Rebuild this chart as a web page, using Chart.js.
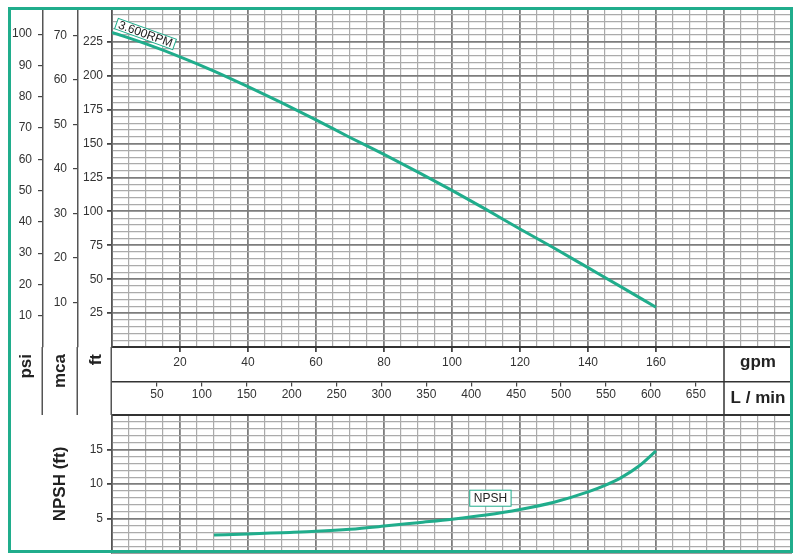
<!DOCTYPE html>
<html>
<head>
<meta charset="utf-8">
<title>Pump curve 3.600RPM</title>
<script src="https://cdn.jsdelivr.net/npm/chart.js@4.4.1/dist/chart.umd.min.js"></script>
<style>
    body { margin: 0; background: #fff; }
    #wrap { position: relative; width: 802px; height: 560px; }
    canvas { position: absolute; left: 0; }
    #main { top: 0; }
    #npsh { top: 410px; }
    #frame {
        position: absolute; left: 8px; top: 7px; width: 785px; height: 546px;
        border: 3px solid #20ad8c; box-sizing: border-box; pointer-events: none;
    }
</style>
</head>
<body>
<div id="wrap">
    <canvas id="main" width="802" height="416"></canvas>
    <canvas id="npsh" width="802" height="150"></canvas>
    <div id="frame"></div>
</div>
<script>
// head curve
const headFlowGpm = [0, 10, 20, 30, 40, 50, 60, 70, 80, 90, 100, 110, 120, 130, 140, 150, 160];
const headFt = [232, 223.5, 214, 203.5, 192, 180, 167.5, 154.5, 142, 129, 115.5, 101.5, 87, 73, 58.5, 44, 29.3];

// NPSH curve
const npshFlowGpm = [30, 40, 50, 60, 70, 80, 90, 100, 110, 120, 130, 140, 145, 150, 155, 160];
const npshFt = [2.6, 2.75, 2.95, 3.15, 3.45, 3.9, 4.4, 4.9, 5.5, 6.3, 7.35, 8.85, 9.8, 11.0, 12.6, 14.8];

// tick labels
const gpmTicks = [20, 40, 60, 80, 100, 120, 140, 160];
const lminTicks = [50, 100, 150, 200, 250, 300, 350, 400, 450, 500, 550, 600, 650];
const psiTicks = [10, 20, 30, 40, 50, 60, 70, 80, 90, 100];
const mcaTicks = [10, 20, 30, 40, 50, 60, 70];
const ftTicks = [25, 50, 75, 100, 125, 150, 175, 200, 225];
const npshTicks = [5, 10, 15];

const curveLabel = '3.600RPM';
const npshLabel = 'NPSH';

// axis ranges (all left axes share the same pixels)
const FT_MAX = 248.5;
const PSI_MAX = FT_MAX / 2.3067;
const MCA_MAX = FT_MAX / 3.2808;
const GPM_MAX = 200;
const LMIN_MAX = GPM_MAX * 3.7854;
const NPSH_MAX = 20;

const FONT = "'Liberation Sans', Arial, Helvetica, sans-serif";
const TEAL = '#20ad8c';
const INK = '#333';
const LINE = '#555';
const MINOR = '#ababab';
const MAJOR = '#7d7d7d';

function steps(from, to, by) {
    const out = [];
    for (let i = 0; from + i * by <= to + 1e-9; i++) out.push({ value: +(from + i * by).toFixed(6) });
    return out;
}

function isStep(c, every) {
    return c.tick && Math.abs(c.tick.value / every - Math.round(c.tick.value / every)) < 1e-6;
}

function grid(every, labelled) {
    return {
        color: c => isStep(c, every) ? MAJOR : MINOR,
        lineWidth: c => isStep(c, every) ? 1.8 : 1.2,
        tickColor: c => c.tick && labelled.includes(c.tick.value) ? '#444' : 'rgba(0,0,0,0)',
        tickLength: 5
    };
}

function fixBox(size) {
    return s => {
        if (s.isHorizontal()) s.height = size; else s.width = size;
        s.paddingTop = s.paddingBottom = s.paddingLeft = s.paddingRight = 0;
    };
}

function tickFont(list, padding) {
    return {
        autoSkip: false, maxRotation: 0, minRotation: 0, padding: padding,
        color: INK, font: { family: FONT, size: 12 },
        callback: v => list.includes(v) ? String(v) : ''
    };
}

function onlyTicks(list) {
    return s => { s.ticks = list.map(v => ({ value: v })); };
}

// boxed labels sitting on the curves
const tagPlugin = {
    id: 'tag',
    afterDatasetsDraw(chart, args, opts) {
        if (!opts.text) return;
        const { ctx, scales } = chart;
        const x = scales.x.getPixelForValue(opts.at[0]);
        const y = scales.y.getPixelForValue(opts.at[1]);
        let angle = 0;
        if (opts.along) {
            const [a, b] = opts.along;
            angle = Math.atan2(
                scales.y.getPixelForValue(b[1]) - scales.y.getPixelForValue(a[1]),
                scales.x.getPixelForValue(b[0]) - scales.x.getPixelForValue(a[0]));
        }
        ctx.save();
        ctx.font = '12px ' + FONT;
        const w = ctx.measureText(opts.text).width + opts.padX * 2;
        const h = opts.h;
        ctx.translate(x, y);
        ctx.rotate(angle);
        ctx.fillStyle = '#fff';
        ctx.fillRect(-w / 2, -h / 2, w, h);
        ctx.strokeStyle = TEAL;
        ctx.lineWidth = 1;
        ctx.strokeRect(-w / 2, -h / 2, w, h);
        ctx.fillStyle = '#222';
        ctx.textAlign = 'center';
        ctx.textBaseline = 'middle';
        ctx.fillText(opts.text, 0, 0.5);
        ctx.restore();
    }
};

// the unit band between the two plots
const bandPlugin = {
    id: 'band',
    afterDraw(chart) {
        const { ctx, chartArea, scales } = chart;
        const top = chartArea.bottom;
        const bottom = scales.lmin.bottom;
        const boxLeft = scales.x.getPixelForValue(180);
        ctx.save();
        ctx.strokeStyle = LINE;
        ctx.lineWidth = 1.5;
        ctx.beginPath();
        [scales.psi, scales.mca, scales.y].forEach(s => {
            ctx.moveTo(s.right - 0.75, top);
            ctx.lineTo(s.right - 0.75, bottom);
        });
        ctx.stroke();
        ctx.strokeStyle = '#333';
        ctx.beginPath();
        ctx.moveTo(boxLeft, top);
        ctx.lineTo(boxLeft, bottom);
        ctx.stroke();

        ctx.fillStyle = '#222';
        ctx.font = 'bold 17px ' + FONT;
        ctx.textBaseline = 'middle';
        [['psi', scales.psi, 0], ['mca', scales.mca, 0], ['ft', scales.y, 1.5]].forEach(([t, s, dx]) => {
            ctx.save();
            ctx.translate((s.left + s.right) / 2 + dx, top + 7);
            ctx.rotate(-Math.PI / 2);
            ctx.textAlign = 'right';
            ctx.fillText(t, 0, 0);
            ctx.restore();
        });
        ctx.textAlign = 'center';
        const cx = (boxLeft + chartArea.right) / 2;
        ctx.fillText('gpm', cx, (scales.x.top + scales.x.bottom) / 2 - 1.5);
        ctx.fillText('L / min', cx, (scales.lmin.top + scales.lmin.bottom) / 2);
        ctx.restore();
    }
};

new Chart(document.getElementById('main'), {
    type: 'line',
    data: {
        datasets: [{
            label: curveLabel,
            data: headFlowGpm.map((x, i) => ({ x, y: headFt[i] })),
            borderColor: TEAL,
            borderWidth: 3,
            pointRadius: 0,
            cubicInterpolationMode: 'monotone',
            xAxisID: 'x',
            yAxisID: 'y'
        }]
    },
    options: {
        responsive: false,
        animation: false,
        events: [],
        layout: { padding: { left: 10, top: 10, right: 10, bottom: 1 } },
        plugins: {
            legend: { display: false },
            tooltip: { enabled: false },
            tag: {
                text: curveLabel, at: [9.85, 230.8], padX: 2.5, h: 11,
                along: [[headFlowGpm[0], headFt[0]], [headFlowGpm[2], headFt[2]]]
            }
        },
        scales: {
            x: {
                type: 'linear', axis: 'x', position: 'bottom', weight: 0,
                min: 0, max: GPM_MAX, bounds: 'data',
                afterBuildTicks: s => { s.ticks = steps(0, GPM_MAX, 5); },
                afterFit: fixBox(34.5),
                ticks: tickFont(gpmTicks, 3),
                grid: grid(20, gpmTicks),
                border: { color: '#333', width: 2 }
            },
            lmin: {
                type: 'linear', axis: 'x', position: 'bottom', weight: 1,
                min: 0, max: LMIN_MAX, bounds: 'data',
                afterBuildTicks: onlyTicks(lminTicks),
                afterFit: fixBox(33.5),
                ticks: tickFont(lminTicks, 1),
                grid: { drawOnChartArea: false, tickLength: 5, tickColor: '#444', lineWidth: 1.2 },
                border: { color: '#333', width: 1.5 }
            },
            y: {
                type: 'linear', axis: 'y', position: 'left', weight: 0,
                min: 0, max: FT_MAX, bounds: 'data',
                afterBuildTicks: s => { s.ticks = steps(0, 245, 5); },
                afterFit: fixBox(34),
                ticks: tickFont(ftTicks, 4),
                grid: grid(25, ftTicks),
                border: { color: LINE, width: 1.5 }
            },
            mca: {
                type: 'linear', axis: 'y', position: 'left', weight: 1,
                min: 0, max: MCA_MAX, bounds: 'data',
                afterBuildTicks: onlyTicks(mcaTicks),
                afterFit: fixBox(35),
                ticks: tickFont(mcaTicks, 6),
                grid: { drawOnChartArea: false, tickLength: 5, tickColor: '#444', lineWidth: 1.2 },
                border: { color: LINE, width: 1.5 }
            },
            psi: {
                type: 'linear', axis: 'y', position: 'left', weight: 2,
                min: 0, max: PSI_MAX, bounds: 'data',
                afterBuildTicks: onlyTicks(psiTicks),
                afterFit: fixBox(33),
                ticks: tickFont(psiTicks, 6),
                grid: { drawOnChartArea: false, tickLength: 5, tickColor: '#444', lineWidth: 1.2 },
                border: { color: LINE, width: 1.5 }
            }
        }
    },
    plugins: [tagPlugin, bandPlugin]
});

new Chart(document.getElementById('npsh'), {
    type: 'line',
    data: {
        datasets: [{
            label: npshLabel,
            data: npshFlowGpm.map((x, i) => ({ x, y: npshFt[i] })),
            borderColor: TEAL,
            borderWidth: 3,
            pointRadius: 0,
            cubicInterpolationMode: 'monotone',
            xAxisID: 'x',
            yAxisID: 'y'
        }]
    },
    options: {
        responsive: false,
        animation: false,
        events: [],
        layout: { padding: { left: 10, top: 5, right: 10, bottom: 7 } },
        plugins: {
            legend: { display: false },
            tooltip: { enabled: false },
            tag: { text: npshLabel, at: [111.3, 7.94], padX: 4, h: 16 }
        },
        scales: {
            x: {
                type: 'linear', position: 'top',
                min: 0, max: GPM_MAX, bounds: 'data',
                afterBuildTicks: s => { s.ticks = steps(0, GPM_MAX, 5); },
                afterFit: fixBox(0),
                ticks: { display: false, autoSkip: false, maxRotation: 0 },
                grid: Object.assign(grid(20, []), { drawTicks: false }),
                border: { color: '#333', width: 2 }
            },
            y: {
                type: 'linear', position: 'left',
                min: 0, max: NPSH_MAX, bounds: 'data',
                afterBuildTicks: s => { s.ticks = steps(0, NPSH_MAX, 1); },
                afterFit: fixBox(102),
                ticks: tickFont(npshTicks, 4),
                grid: grid(5, npshTicks),
                border: { color: LINE, width: 1.5 },
                title: {
                    display: true, text: 'NPSH (ft)', color: '#222',
                    font: { family: FONT, size: 17, weight: 'bold' },
                    padding: { top: 40, bottom: 0 }
                }
            }
        }
    },
    plugins: [tagPlugin]
});
</script>
</body>
</html>
